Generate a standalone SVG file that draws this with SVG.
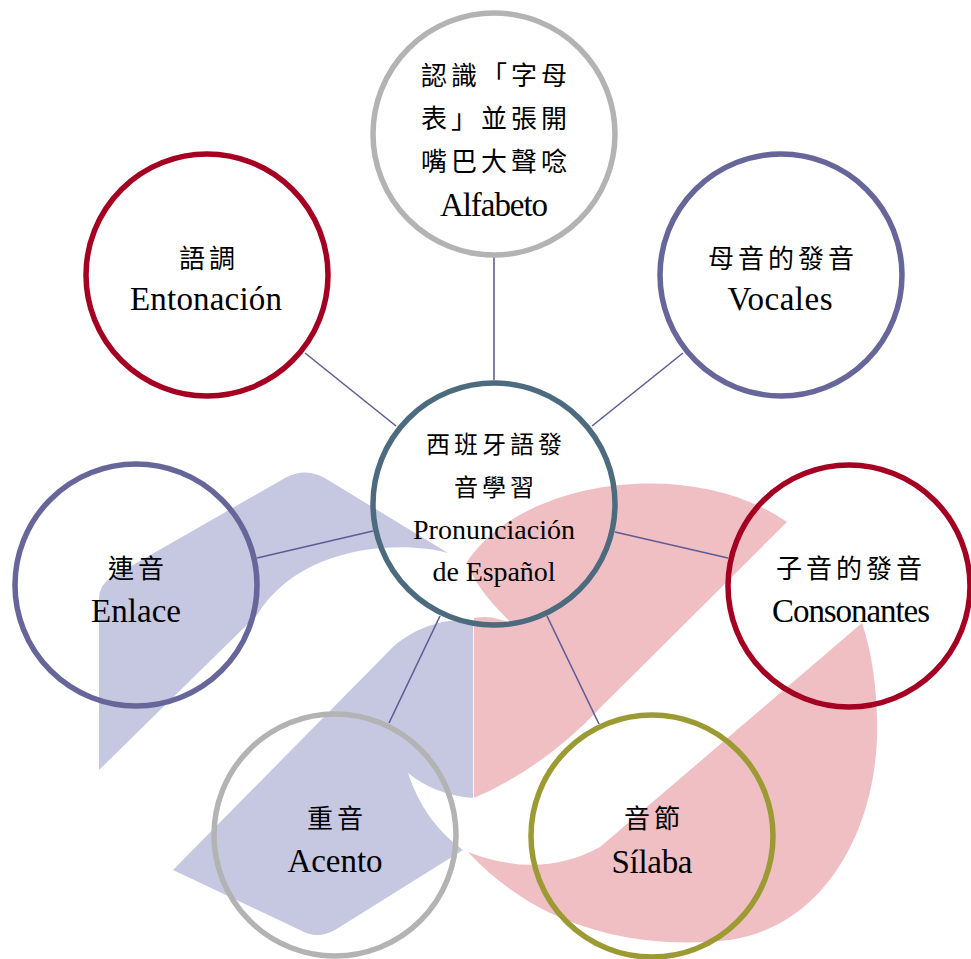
<svg xmlns="http://www.w3.org/2000/svg" width="971" height="959" viewBox="0 0 971 959">
<style>
.bg{stroke:none}
.lav{fill:#c6c7e1}
.pink{fill:#f0bfc3}
.ring{fill:none;stroke-width:5.5}
.conn line{stroke:#5d5c96;stroke-width:1.6}
.zh{font-family:"Noto Sans CJK TC","Noto Sans CJK SC",sans-serif;font-size:26px;letter-spacing:4px;fill:#000;text-anchor:middle}
.zhc{font-family:"Noto Sans CJK TC","Noto Sans CJK SC",sans-serif;font-size:24px;letter-spacing:4px;fill:#000;text-anchor:middle}
.en{font-family:"Liberation Serif","Times New Roman",serif;font-size:33px;fill:#000;text-anchor:middle}
.enc{font-family:"Liberation Serif","Times New Roman",serif;font-size:28px;fill:#000;text-anchor:middle}
</style>
<rect width="971" height="959" fill="#ffffff"/>
<g id="background">
<path class="bg lav" d="M99,770 L99,598 Q99,585 112,577 L285,478 Q307,466 328,480 L448,553 C400,540 300,545 257,615 Z"/>
<path class="bg lav" d="M473,620 C440,618 410,630 390,650 L173,870 L300,930 Q317,940 335,930 L463,850 Q424,822 408,773 Q435,795 473,798 Z"/>
<path class="bg pink" d="M474,798 L474,618 Q505,612 530,640 Q476,593 467,562 C520,480 690,455 787,522 L600,708 Q545,767 474,798 Z"/>
<path class="bg pink" d="M468,852 C540,930 640,950 730,940 C830,925 880,820 877,720 Q876,665 862,623 L600,847 Q540,880 468,852 Z"/>
</g>
<g id="connectors" class="conn">
<line x1="494" y1="257" x2="494" y2="380"/>
<line x1="305" y1="353" x2="396" y2="426"/>
<line x1="683" y1="353" x2="592" y2="426"/>
<line x1="257" y1="558" x2="373" y2="531"/>
<line x1="615" y1="532" x2="728" y2="558"/>
<line x1="440" y1="616" x2="389" y2="723"/>
<line x1="547" y1="616" x2="599" y2="724"/>
</g>
<g id="node-center">
<circle class="ring" cx="494" cy="504" r="121" stroke="#4c6b7f"/>
<text class="zhc" x="496" y="453">西班牙語發</text>
<text class="zhc" x="496" y="496">音學習</text>
<text class="enc" x="494" y="539" textLength="162" lengthAdjust="spacing">Pronunciación</text>
<text class="enc" x="494" y="581" textLength="123" lengthAdjust="spacing">de Español</text>
</g>
<g id="node-alfabeto">
<circle class="ring" cx="494" cy="134" r="121" stroke="#b3b3b3"/>
<text class="zh" x="496" y="85">認識「字母</text>
<text class="zh" x="496" y="128">表」並張開</text>
<text class="zh" x="496" y="171">嘴巴大聲唸</text>
<text class="en" x="494" y="216" textLength="108" lengthAdjust="spacing">Alfabeto</text>
</g>
<g id="node-entonacion">
<circle class="ring" cx="207" cy="275" r="121" stroke="#a50021"/>
<text class="zh" x="209" y="268">語調</text>
<text class="en" x="206" y="310" textLength="152" lengthAdjust="spacing">Entonación</text>
</g>
<g id="node-vocales">
<circle class="ring" cx="781" cy="275" r="121" stroke="#66669b"/>
<text class="zh" x="783" y="268">母音的發音</text>
<text class="en" x="780" y="310" textLength="105" lengthAdjust="spacing">Vocales</text>
</g>
<g id="node-enlace">
<circle class="ring" cx="136" cy="585" r="121" stroke="#66669b"/>
<text class="zh" x="138" y="578">連音</text>
<text class="en" x="136" y="622" textLength="90" lengthAdjust="spacing">Enlace</text>
</g>
<g id="node-consonantes">
<circle class="ring" cx="849" cy="586" r="121" stroke="#a50021"/>
<text class="zh" x="851" y="578">子音的發音</text>
<text class="en" x="851" y="622" textLength="158" lengthAdjust="spacing">Consonantes</text>
</g>
<g id="node-acento">
<circle class="ring" cx="335" cy="835" r="121" stroke="#b3b3b3"/>
<text class="zh" x="337" y="828">重音</text>
<text class="en" x="335" y="872" textLength="95" lengthAdjust="spacing">Acento</text>
</g>
<g id="node-silaba">
<circle class="ring" cx="652" cy="836" r="121" stroke="#9c9a33"/>
<text class="zh" x="654" y="828">音節</text>
<text class="en" x="652" y="873" textLength="81" lengthAdjust="spacing">Sílaba</text>
</g>
</svg>
